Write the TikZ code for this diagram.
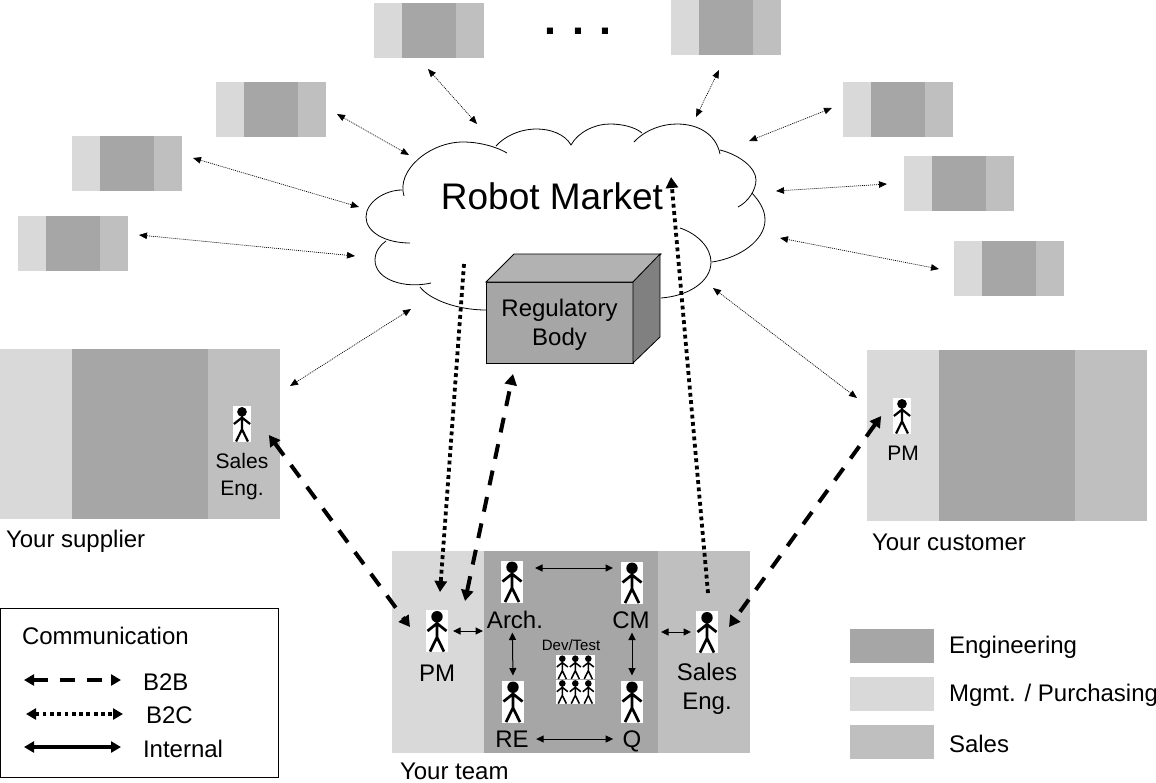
\documentclass[tikz,border=0pt]{standalone}
\usepackage{fontspec}
\setmainfont{Liberation Sans}
\usetikzlibrary{arrows.meta,positioning}
\definecolor{mgmtgray}{HTML}{D9D9D9}
\definecolor{enggray}{HTML}{A6A6A6}
\definecolor{salesgray}{HTML}{BFBFBF}
\tikzset{
  band/.style={rectangle,fill=#1,inner sep=0pt,outer sep=0pt},
  lab/.style={inner sep=0pt,outer sep=0pt,align=center,font=\fontsize{24}{28.5}\selectfont},
  lablow/.style={lab,font=\fontsize{21}{27}\selectfont},
  b2b/.style={{Triangle[length=11pt,width=12pt]}-{Triangle[length=11pt,width=12pt]},line width=4pt,dash pattern=on 15pt off 12pt},
  b2c/.style={-{Triangle[length=11pt,width=12pt]},line width=3.8pt,dash pattern=on 3.8pt off 3.5pt},
  linkthin/.style={{Triangle[length=8pt,width=6.5pt]}-{Triangle[length=8pt,width=6.5pt]},line width=.7pt,dash pattern=on 1pt off 1pt},
  linkint/.style={{Triangle[length=7.5pt,width=7pt]}-{Triangle[length=7.5pt,width=7pt]},line width=1pt},
  keyint/.style={{Triangle[length=10pt,width=11pt]}-{Triangle[length=10pt,width=11pt]},line width=3pt},
  person/.pic={
    \node[fill=white,inner sep=0pt,outer sep=0pt,minimum width=22pt,minimum height=42pt,transform shape] (-box) {};
    \fill (0,-14.3) circle (5.7pt);
    \draw (0,-10) -- (0,6.3) (-7,20.6) -- (0,6.3) -- (7,20.6) (-9.5,0) -- (0,-7.6) -- (9.5,0);
  }
}
\begin{document}
\begin{tikzpicture}[x=1pt,y=-1pt,line width=2.7pt]
\useasboundingbox (0,0) rectangle (1156,782);
\foreach \n/\x/\y in {a/374/3,b/671/0,c/216/82,d/72/136,e/18/216,f/843/82,g/904/156,h/954/241} {
  \node[band=mgmtgray,anchor=north west,minimum width=28pt,minimum height=55pt] (\n-m) at (\x,\y) {};
  \node[band=enggray,right=0pt of \n-m,minimum width=54pt,minimum height=55pt] (\n-e) {};
  \node[band=salesgray,right=0pt of \n-e,minimum width=28pt,minimum height=55pt] (\n-s) {};
}
\node[lab,font=\fontsize{43}{43}\selectfont\bfseries] (dots) at (578,31) {. . .};

\node[band=mgmtgray,anchor=north west,minimum width=72pt,minimum height=170pt] (sup-m) at (0,349) {};
\node[band=enggray,right=0pt of sup-m,minimum width=136pt,minimum height=170pt] (sup-e) {};
\node[band=salesgray,right=0pt of sup-e,minimum width=72pt,minimum height=170pt] (sup-s) {};
\node[lab,anchor=west] (suplab) at (6,541) {Your supplier};
\node[band=mgmtgray,anchor=north west,minimum width=72pt,minimum height=171pt] (cus-m) at (867,350) {};
\node[band=enggray,right=0pt of cus-m,minimum width=136pt,minimum height=171pt] (cus-e) {};
\node[band=salesgray,right=0pt of cus-e,minimum width=72pt,minimum height=171pt] (cus-s) {};
\node[lab,anchor=west] (cuslab) at (872,542) {Your customer};
\node[band=mgmtgray,anchor=north west,minimum width=92pt,minimum height=202pt] (team-m) at (392,551) {};
\node[band=enggray,right=0pt of team-m,minimum width=174pt,minimum height=202pt] (team-e) {};
\node[band=salesgray,right=0pt of team-e,minimum width=92pt,minimum height=202pt] (team-s) {};
\node[lab,anchor=west] (teamlab) at (400,771) {Your team};

\draw[line width=.8pt] (404,196) .. controls (396,170) and (430,142) .. (463,142) .. controls (480,142) and (497,147) .. (507,153)
  (496,146) .. controls (505,136) and (520,129) .. (537,129) .. controls (550,129) and (565,134) .. (571,145)
  .. controls (578,132) and (595,124) .. (610,124) .. controls (622,124) and (635,127) .. (642,133)
  (634,142) .. controls (645,130) and (662,124) .. (677,124) .. controls (698,124) and (716,134) .. (720,154)
  (720,150) .. controls (740,155) and (756,168) .. (756,180) .. controls (756,190) and (748,202) .. (738,207)
  (752,193) .. controls (760,202) and (765,210) .. (765,220) .. controls (765,240) and (740,258) .. (712,262)
  (680,228) .. controls (698,234) and (711,248) .. (711,262) .. controls (711,282) and (688,296) .. (661,298)
  (486,310) .. controls (458,310) and (430,300) .. (420,287)
  (431,283) .. controls (405,289) and (375,280) .. (375,260) .. controls (375,252) and (380,245) .. (386,241)
  (410,243) .. controls (385,243) and (366,232) .. (366,217) .. controls (366,202) and (385,190) .. (402,190);
\node[lab,font=\fontsize{37}{37}\selectfont] (market) at (552,196) {Robot Market};

\node[draw,line width=.8pt,fill=enggray,minimum width=147pt,minimum height=81pt,inner sep=0pt,outer sep=0pt] (reg) at (559.5,322.5) {};
\draw[line width=.8pt,fill=black!30] (reg.north west) -- ++(28,-28) -- ++(147,0) -- (reg.north east) -- cycle;
\draw[line width=.8pt,fill=black!50] (reg.north east) -- ++(27,-28) -- ++(0,83) -- (reg.south east) -- cycle;
\node[lab,font=\fontsize{24}{29}\selectfont] (reglab) at (559.5,325) {Regulatory\\Body};

\pic (pm) at (437,631) {person};
\pic (arch) at (512,581.5) {person};
\pic (cm) at (632,582.5) {person};
\pic (re) at (513,701.5) {person};
\pic (q) at (632,701.5) {person};
\pic (sales) at (707,632) {person};
\foreach \n/\x/\y in {1/562.3/667,2/575.3/667,3/588.3/667,4/562.3/691.7,5/575.3/691.7,6/588.3/691.7}
  \pic[scale=.58,line width=1.5pt] (dev\n) at (\x,\y) {person};
\pic[scale=.85,line width=2.2pt] (sup) at (242,424) {person};
\pic[scale=.85,line width=2.2pt] (cus) at (902,416) {person};

\node[lab] (pmlab) at (437,673) {PM};
\node[lab] (archlab) at (515,620) {Arch.};
\node[lab] (cmlab) at (631,620) {CM};
\node[lab] (relab) at (512,739) {RE};
\node[lab] (qlab) at (632,741) {Q};
\node[lab] (saleslab) at (707,689) {Sales\\Eng.};
\node[lab,font=\fontsize{15}{15}\selectfont] (devlab) at (571,645) {Dev/Test};
\node[lablow] (suplow) at (242,476.5) {Sales\\Eng.};
\node[lablow] (cuslow) at (903,453) {PM};

\foreach \n/\xa/\ya/\xb/\yb in {a/428/69/477/124,b/719/70/696/117,c/337/114/409/155,d/193/158/359/207,e/139/235/355/256,f/832/108/749/141,g/887/184/776/191,h/939/269/780/238,s/290/386/411/309,u/857/398/713/288} {
  \coordinate (out\n) at (\xa,\ya);
  \coordinate (mkt\n) at (\xb,\yb);
  \draw[linkthin] (out\n) -- (mkt\n);
}

\draw[b2b] ([xshift=17.5pt,yshift=-11pt]sup-box.east) -- ([xshift=-16pt,yshift=4pt]pm-box.west);
\draw[b2b] ([xshift=-11.5pt]cus-box.west) -- ([xshift=11pt,yshift=5pt]sales-box.east);
\draw[b2b] ([xshift=28pt,yshift=9pt]pm-box.north) -- ([xshift=-46.5pt,yshift=-11pt]reg.south);
\coordinate (mktdown) at (464,264);
\coordinate (mktup) at (671,177);
\draw[b2c] (mktdown) -- ([xshift=3pt,yshift=18pt]pm-box.north);
\draw[b2c] ([xshift=1pt,yshift=18pt]sales-box.north) -- (mktup);

\draw[linkint,shorten <=5pt,shorten >=1pt] (pm-box.east) -- (team-e.west |- pm-box.east);
\draw[linkint,shorten <=12pt,shorten >=8pt] ([yshift=13.5pt]arch-box.east) -- ([yshift=14.5pt]cm-box.west);
\draw[linkint,shorten <=30pt,shorten >=5pt] (arch-box.south) -- (re-box.north);
\draw[linkint,shorten <=29pt,shorten >=5pt] (cm-box.south) -- (q-box.north);
\draw[linkint,shorten <=7.5pt,shorten >=9.5pt] (relab.east) -- (qlab.west |- relab.east);
\draw[linkint,shorten <=3pt,shorten >=5pt] (team-e.east |- sales-box.west) -- (sales-box.west);

\node[draw,line width=1pt,inner sep=0pt,anchor=north west,minimum width=278pt,minimum height=169pt] (keybox) at (0,608) {};
\node[lab,anchor=west] (keytitle) at (22,636) {Communication};
\node[lab,anchor=west] (keyb2b) at (143,682) {B2B};
\node[lab,anchor=west] (keyb2c) at (146,715) {B2C};
\node[lab,anchor=west] (keyint) at (143,749) {Internal};
\coordinate (keyb2bfree) at (24,680);
\coordinate (keyb2cfree) at (26,714);
\coordinate (keyintfree) at (24,747);
\draw[b2b,{Triangle[length=10pt,width=11pt]}-{Triangle[length=10pt,width=11pt]},line width=3.5pt,shorten >=22pt] (keyb2bfree) -- (keyb2b.west |- keyb2bfree);
\draw[b2c,{Triangle[length=10pt,width=11pt]}-{Triangle[length=10pt,width=11pt]},line width=3.5pt,shorten >=23pt] (keyb2cfree) -- (keyb2c.west |- keyb2cfree);
\draw[keyint,line width=3.5pt,shorten >=22pt] (keyintfree) -- (keyint.west |- keyintfree);

\node[band=enggray,anchor=north west,minimum width=84pt,minimum height=34pt] (legeng) at (850,629) {};
\node[band=mgmtgray,below=14pt of legeng,minimum width=84pt,minimum height=34pt] (legmgmt) {};
\node[band=salesgray,below=14pt of legmgmt,minimum width=84pt,minimum height=34pt] (legsales) {};
\node[lab,right=15pt of legeng,yshift=-1.5pt] (legenglab) {Engineering};
\node[lab,right=15pt of legmgmt,yshift=-1.5pt] (legmgmtlab) {Mgmt. / Purchasing};
\node[lab,right=15pt of legsales,yshift=-1.5pt] (legsaleslab) {Sales};
\end{tikzpicture}
\end{document}
